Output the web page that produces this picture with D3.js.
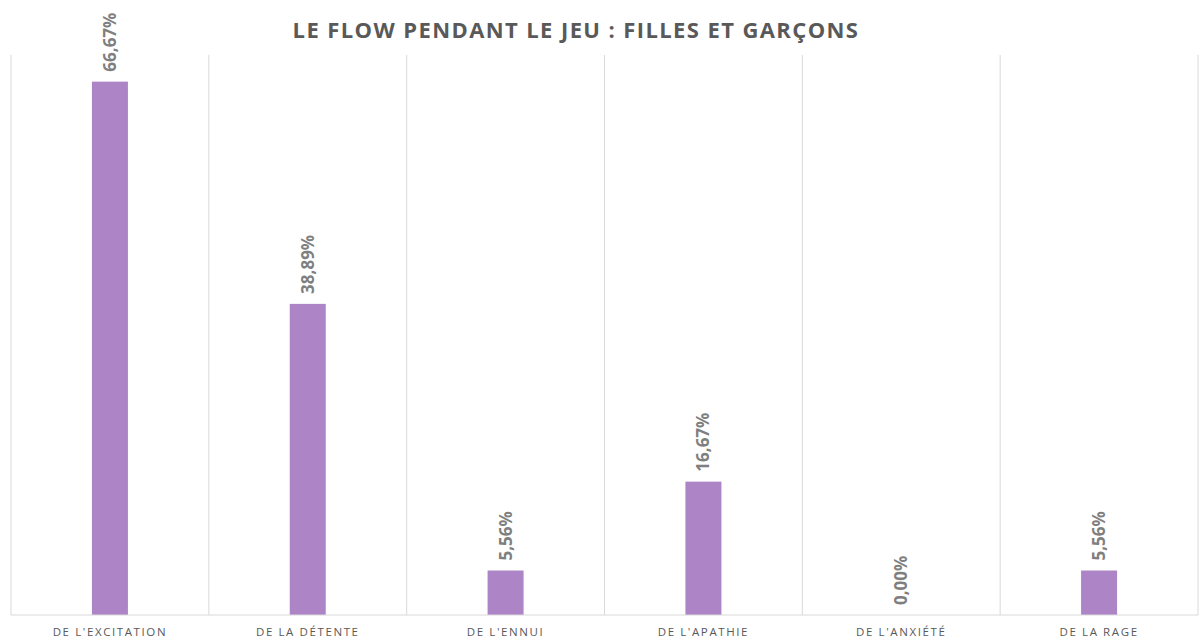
<!DOCTYPE html>
<html lang="fr">
<head>
    <meta charset="UTF-8">
    <title>Le flow pendant le jeu</title>
    <script src="https://d3js.org/d3.v7.min.js"></script>
    <style>
        body { margin: 0; background: #fff; }
        .title { font-family: "Open Sans", sans-serif; font-weight: bold; font-size: 22px; fill: #595959; letter-spacing: 1.4px; }
        .cat { font-family: "Open Sans", sans-serif; font-size: 11.5px; fill: #595959; letter-spacing: 1.6px; }
        .val { font-family: "Open Sans", sans-serif; font-weight: bold; font-size: 17px; fill: #7f7f7f; }
    </style>
</head>
<body>
<svg width="1204" height="644"></svg>
<script>
    const categories = ["DE L'EXCITATION", "DE LA DÉTENTE", "DE L'ENNUI", "DE L'APATHIE", "DE L'ANXIÉTÉ", "DE LA RAGE"];
    const values = [0.6667, 0.3889, 0.0556, 0.1667, 0.0, 0.0556];
    const labels = ["66,67%", "38,89%", "5,56%", "16,67%", "0,00%", "5,56%"];

    const svg = d3.select("svg");
    const plotLeft = 11, plotRight = 1198, plotTop = 55, plotBottom = 615;

    const x = d3.scaleBand().domain(categories).range([plotLeft, plotRight]);
    const y = d3.scaleLinear().domain([0, 0.7]).range([plotBottom, plotTop]);

    // vertical separators
    const edges = categories.map(c => x(c)).concat([plotRight]);
    svg.append("g").selectAll("line")
        .data(edges)
        .enter()
        .append("line")
        .attr("x1", d => d).attr("x2", d => d)
        .attr("y1", plotTop).attr("y2", plotBottom)
        .attr("stroke", "#d9d9d9")
        .attr("stroke-width", 1);

    const barW = 36;
    svg.append("g").selectAll("rect")
        .data(values)
        .enter()
        .append("rect")
        .attr("x", (d, i) => x(categories[i]) + x.bandwidth() / 2 - barW / 2)
        .attr("y", d => y(d))
        .attr("width", barW)
        .attr("height", d => plotBottom - y(d))
        .attr("fill", "#ad84c6");

    // baseline
    svg.append("line")
        .attr("x1", plotLeft).attr("x2", plotRight)
        .attr("y1", plotBottom).attr("y2", plotBottom)
        .attr("stroke", "#d9d9d9");

    svg.append("g").selectAll("text")
        .data(values)
        .enter()
        .append("text")
        .attr("class", "val")
        .attr("transform", (d, i) => "translate(" + (x(categories[i]) + x.bandwidth() / 2 + 6) + "," + (y(d) - 10) + ") rotate(-90)")
        .text((d, i) => labels[i]);

    svg.append("g").selectAll("text")
        .data(categories)
        .enter()
        .append("text")
        .attr("class", "cat")
        .attr("x", d => x(d) + x.bandwidth() / 2)
        .attr("y", 636)
        .attr("text-anchor", "middle")
        .text(d => d);

    svg.append("text")
        .attr("class", "title")
        .attr("x", 576)
        .attr("y", 38)
        .attr("text-anchor", "middle")
        .text("LE FLOW PENDANT LE JEU : FILLES ET GARÇONS");
</script>
</body>
</html>
